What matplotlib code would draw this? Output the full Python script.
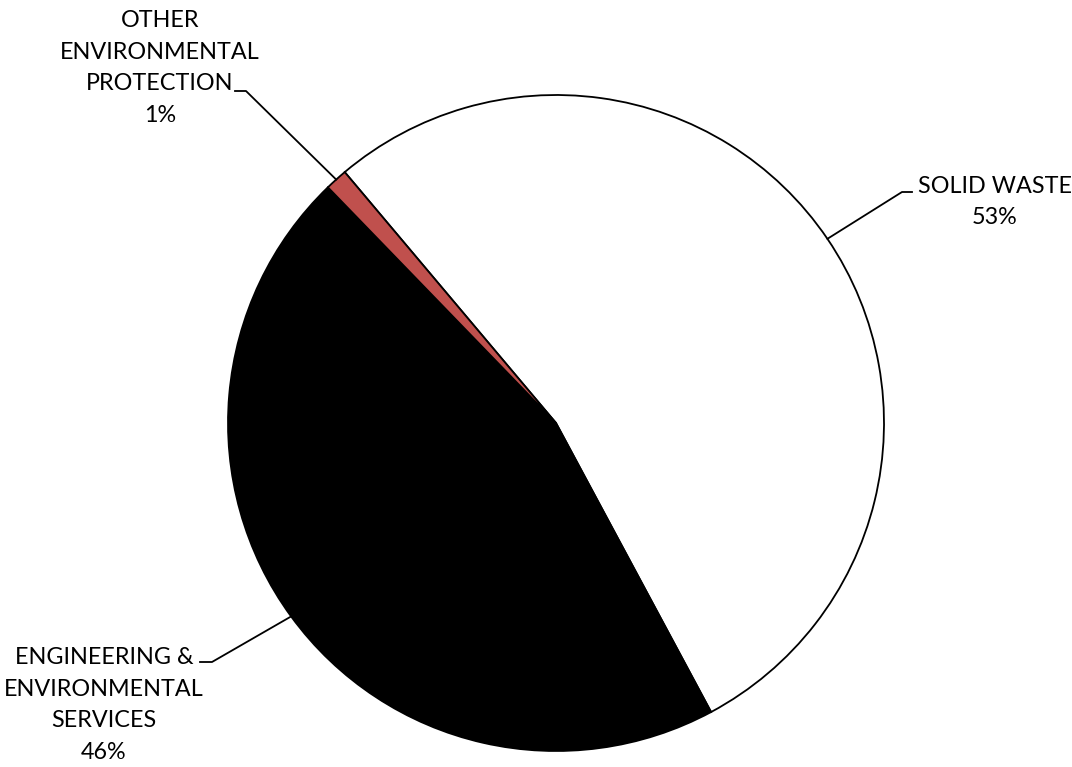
import numpy as np
import matplotlib.pyplot as plt

# pie data (share of total, %)
categories = ["SOLID WASTE", "ENGINEERING &\nENVIRONMENTAL\nSERVICES", "OTHER\nENVIRONMENTAL\nPROTECTION"]
values = [53.3, 45.6, 1.1]
colors = ["#FFFFFF", "#000000", "#C0504D"]

W, H = 1072, 767
cx, cy, R = 556, 423, 328  # pie centre / radius in pixels

plt.rcParams['font.family'] = ['Lato', 'DejaVu Sans']

fig = plt.figure(figsize=(W / 100, H / 100), dpi=100)
ax = fig.add_axes([0, 0, 1, 1])


def px(x, y):
    return (x - cx) / R, (cy - y) / R


wedges, _ = ax.pie(values, colors=colors, startangle=130.1, counterclock=False,
                   radius=1, center=(0, 0), frame=True,
                   wedgeprops=dict(edgecolor="black", linewidth=1.3))
ax.set_xlim(-cx / R, (W - cx) / R)
ax.set_ylim(-(H - cy) / R, cy / R)
ax.set_aspect("auto")
ax.axis("off")

# label layout: (elbow px, end px, text centre px)
layout = [
    ((902, 192), (912, 192), (995, 202)),
    ((212, 662), (200, 662), (104, 705)),
    ((246, 91), (235, 91), (160, 68)),
]

total = sum(values)
for w, name, v, (elb, end, tc) in zip(wedges, categories, values, layout):
    mid = np.deg2rad((w.theta1 + w.theta2) / 2)
    x0, y0 = np.cos(mid), np.sin(mid)
    ex, ey = px(*elb)
    nx, ny = px(*end)
    ax.plot([x0, ex, nx], [y0, ey, ny], color="black", lw=1.3)
    tx, ty = px(*tc)
    ax.text(tx, ty, f"{name}\n{round(v / total * 100):.0f}%", ha="center", va="center",
            multialignment="center", fontsize=16.8, linespacing=1.64, color="black")

fig.savefig("out.png", dpi=100)
